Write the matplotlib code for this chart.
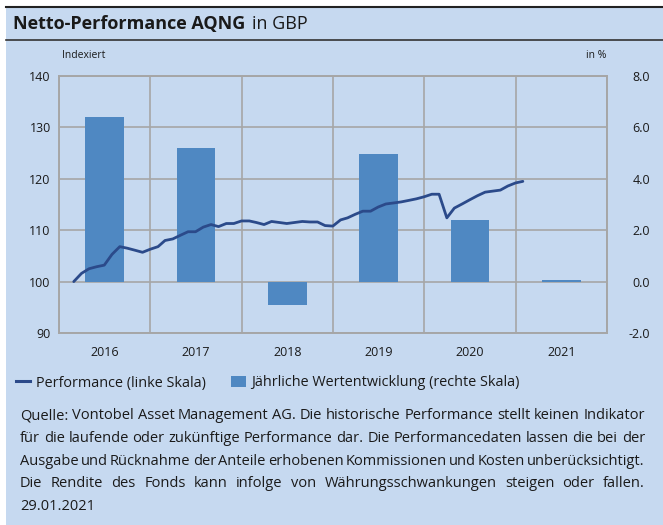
import matplotlib
matplotlib.use('Agg')
import matplotlib.pyplot as plt
from matplotlib.patches import Rectangle
from matplotlib.lines import Line2D
import pandas as pd

plt.rcParams['font.family'] = ['Open Sans', 'DejaVu Sans']

# data
years = ['2016', '2017', '2018', '2019', '2020', '2021']
annual = [6.4, 5.2, -0.9, 4.95, 2.4, 0.05]          # % (right scale)
perf = [100.0, 101.6, 102.5, 102.9, 103.2, 105.3, 106.8, 106.5, 106.1, 105.7, 106.3, 106.8,
        108.0, 108.3, 109.0, 109.7, 109.7, 110.6, 111.1, 110.7, 111.3, 111.3, 111.8, 111.8,
        111.5, 111.1, 111.7, 111.5, 111.3, 111.5, 111.7, 111.6, 111.6, 110.9, 110.8, 112.0,
        112.4, 113.1, 113.7, 113.7, 114.5, 115.1, 115.3, 115.5, 115.8, 116.1, 116.5, 117.0,
        117.0, 112.4, 114.3, 115.1, 115.9, 116.7, 117.4, 117.6, 117.8, 118.6, 119.2, 119.5]
dates = list(pd.date_range('2016-02-29', periods=59, freq='ME')) + [pd.Timestamp('2021-01-29')]

footnote = [
    "Quelle: Vontobel Asset Management AG. Die historische Performance stellt keinen Indikator",
    "für die laufende oder zukünftige Performance dar. Die Performancedaten lassen die bei der",
    "Ausgabe und Rücknahme der Anteile erhobenen Kommissionen und Kosten unberücksichtigt.",
    "Die Rendite des Fonds kann infolge von Währungsschwankungen steigen oder fallen.",
    "29.01.2021",
]

BG = '#C6D9F0'
BAR = '#4F88C2'
LINE = '#2B4A8A'
GRID = '#A6A6A6'
TXT = '#1A1A1A'

W, H = 663, 525
fig = plt.figure(figsize=(W / 100, H / 100), dpi=100)
fig.patch.set_facecolor('white')

def fx(px):
    return px / W

def fy(py):
    return 1 - py / H

# panel background + rules
fig.add_artist(Rectangle((fx(6), 0), 1 - fx(6), fy(7), transform=fig.transFigure,
                         facecolor=BG, edgecolor='none', zorder=-10))
fig.add_artist(Line2D([fx(6), 1], [fy(7), fy(7)], transform=fig.transFigure, color='#222222', lw=1.5))
fig.add_artist(Line2D([fx(6), 1], [fy(40), fy(40)], transform=fig.transFigure, color='#333333', lw=1.2))

# title
t1 = fig.text(fx(13), fy(24), 'Netto-Performance AQNG', fontsize=13, fontweight='bold',
              va='center', ha='left', color=TXT)
fig.canvas.draw()
r = fig.canvas.get_renderer()
bb = t1.get_window_extent(r)
fig.text(fx(bb.x1 + 7), fy(24), 'in GBP', fontsize=13, va='center', ha='left', color=TXT)

# axes
left, right, top, bottom = 59, 607, 76, 333
ax2 = fig.add_axes([fx(left), fy(bottom), fx(right - left), (bottom - top) / H])
ax = ax2.twinx()
ax2.set_facecolor('none')
ax.set_facecolor('none')

# bars on percent scale
xc = [i + 0.5 for i in range(len(years))]
ax2.bar(xc, annual, width=0.42, color=BAR, zorder=2)
ax2.set_ylim(-2, 8)
ax2.set_xlim(0, 6)
ax2.set_yticks([-2, 0, 2, 4, 6, 8])
ax2.set_yticklabels(['-2.0', '0.0', '2.0', '4.0', '6.0', '8.0'])
ax2.set_xticks(range(7))
ax2.set_xticklabels([])
ax2.set_xticks(xc, minor=True)
ax2.set_xticklabels(years, minor=True)
ax2.grid(True, which='major', color=GRID, lw=1.2, zorder=0)
ax2.set_axisbelow(True)
ax2.yaxis.tick_right()
ax2.tick_params(axis='y', length=0, pad=31, labelsize=9, colors=TXT)
ax2.tick_params(axis='x', which='both', length=0, pad=9, labelsize=9, colors=TXT)
for lab in ax2.get_yticklabels():
    lab.set_ha('right')

# performance line on index scale
xl = [(d - pd.Timestamp('2016-01-01')).days / 365.25 for d in dates]
ax.plot(xl, perf, color=LINE, lw=2.0, zorder=3, solid_capstyle='round')
ax.set_ylim(90, 140)
ax.set_yticks([90, 100, 110, 120, 130, 140])
ax.yaxis.tick_left()
ax.tick_params(axis='y', length=0, pad=6, labelsize=9, colors=TXT)
for a in (ax, ax2):
    for s in a.spines.values():
        s.set_color(GRID)
        s.set_linewidth(1.2)

fig.text(fx(62), fy(56), 'Indexiert', fontsize=7.5, va='center', ha='left', color=TXT)
fig.text(fx(606), fy(56), 'in %', fontsize=7.5, va='center', ha='right', color=TXT)

# legend
handles = [Line2D([], [], color=LINE, lw=2.2),
           Rectangle((0, 0), 1, 1, facecolor=BAR, edgecolor='none')]
fig.legend(handles, ['Performance (linke Skala)', 'Jährliche Wertentwicklung (rechte Skala)'],
           loc='center left', bbox_to_anchor=(fx(3), fy(383)), ncol=2, frameon=False,
           fontsize=10.4, handlelength=1.0, handleheight=0.8, handletextpad=0.35,
           columnspacing=1.8, labelcolor=TXT)

# justified footnote
x0, x1 = 20, 645
y = 419
fs = 10.5
for i, line in enumerate(footnote):
    words = line.split(' ')
    if i == len(footnote) - 1 or len(words) == 1:
        fig.text(fx(x0), fy(y), line, fontsize=fs, va='baseline', ha='left', color=TXT)
    else:
        widths = []
        for w in words:
            t = fig.text(0, 0, w, fontsize=fs)
            widths.append(t.get_window_extent(r).width)
            t.remove()
        gap = (x1 - x0 - sum(widths)) / (len(words) - 1)
        xp = x0
        for w, wd in zip(words, widths):
            fig.text(fx(xp), fy(y), w, fontsize=fs, va='baseline', ha='left', color=TXT)
            xp += wd + gap
    y += 22.8

fig.savefig('out.png', dpi=100, facecolor=fig.get_facecolor())
